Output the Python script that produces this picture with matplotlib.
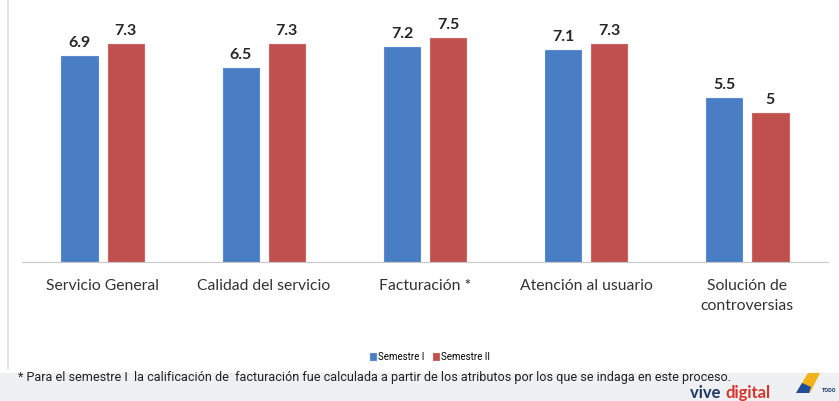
import matplotlib.pyplot as plt
import matplotlib.patches as mpatches
import numpy as np

categories = ["Servicio General", "Calidad del servicio", "Facturación *",
              "Atención al usuario", "Solución de\ncontroversias"]
semestre_1 = [6.9, 6.5, 7.2, 7.1, 5.5]
semestre_2 = [7.3, 7.3, 7.5, 7.3, 5]
value_labels_1 = ["6.9", "6.5", "7.2", "7.1", "5.5"]
value_labels_2 = ["7.3", "7.3", "7.5", "7.3", "5"]

blue = "#4a7ec4"
red = "#c0504d"

fig = plt.figure(figsize=(8.39, 4.01), dpi=100)
fig.patch.set_facecolor("white")

# footer band
fig.patches.append(mpatches.Rectangle((0, 0), 1, 0.07, transform=fig.transFigure,
                                      facecolor="#eef0f3", edgecolor="none", zorder=0))
# faint left border
fig.add_artist(plt.Line2D([0.0095, 0.0095], [0.08, 1.0], transform=fig.transFigure,
                          color="#dde3ea", lw=1.2))

ax = fig.add_axes([22 / 839, 1 - 262 / 401, 806 / 839, 262 / 401])
x = np.arange(len(categories))
w = 0.225
off = 0.143
b1 = ax.bar(x - off, semestre_1, w, color=blue, edgecolor="#5b8ad0", lw=0.8, label="Semestre I")
b2 = ax.bar(x + off, semestre_2, w, color=red, edgecolor="#cc6562", lw=0.8, label="Semestre II")

for xi, v, s in zip(x, semestre_1, value_labels_1):
    ax.text(xi - off, v + 0.2, s, ha="center", va="bottom", fontsize=11.5,
            fontweight="bold", color="#262626", family="Lato")
for xi, v, s in zip(x, semestre_2, value_labels_2):
    ax.text(xi + off, v + 0.2, s, ha="center", va="bottom", fontsize=11.5,
            fontweight="bold", color="#262626", family="Lato")

ax.set_xlim(-0.5, 4.5)
ax.set_ylim(0, 8.77)
ax.set_yticks([])
ax.set_xticks(x)
ax.set_xticklabels(categories, fontsize=11.3, color="#333333", family="Lato", linespacing=1.6)
ax.tick_params(axis="x", length=0, pad=12)
for s in ["top", "right", "left"]:
    ax.spines[s].set_visible(False)
ax.spines["bottom"].set_color("#c8c8c8")
ax.patch.set_alpha(0)

fig.legend(handles=[b1, b2], labels=["Semestre I", "Semestre II"], loc="center",
           bbox_to_anchor=(430 / 839, 1 - 357 / 401), ncol=2, frameon=False,
           handlelength=0.7, handleheight=0.7, handletextpad=0.2,
           columnspacing=0.8, prop={"family": "Roboto", "size": 7})

fig.text(18 / 839, 1 - 378 / 401,
         "* Para el semestre I  la calificación de  facturación fue calculada a partir de los atributos por los que se indaga en este proceso.",
         fontsize=9.1, color="#222222", family="Roboto", va="center")

fig.text(690 / 839, 1 - 393 / 401, "vive ", fontsize=12, color="#1f3864",
         family="Lato", fontweight="bold", va="center")
fig.text(725 / 839, 1 - 393 / 401, "digital", fontsize=12, color="#d9342b",
         family="Lato", fontweight="bold", va="center")
fig.patches.append(mpatches.Polygon([[796 / 839, 0.02], [808 / 839, 0.07], [820 / 839, 0.07],
                                     [810 / 839, 0.02]], transform=fig.transFigure,
                                    facecolor="#f2b21b", edgecolor="none"))
fig.patches.append(mpatches.Polygon([[796 / 839, 0.02], [802 / 839, 0.045], [811 / 839, 0.035],
                                     [809 / 839, 0.02]], transform=fig.transFigure,
                                    facecolor="#1f4e9a", edgecolor="none"))
fig.text(822 / 839, 1 - 391 / 401, "TODO", fontsize=4, color="#1f3864",
         family="Roboto", fontweight="bold", va="center")

fig.savefig("out.png", dpi=100)
